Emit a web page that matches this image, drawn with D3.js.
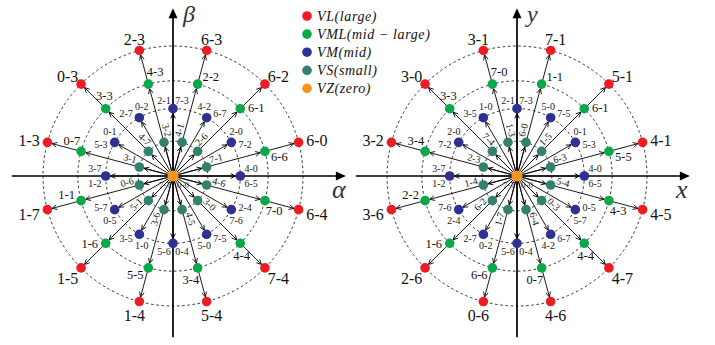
<!DOCTYPE html>
<html><head><meta charset="utf-8">
<script src="https://cdn.jsdelivr.net/npm/d3@7"></script>
<style>body{margin:0;background:#fff} text{font-family:"Liberation Serif","Times New Roman","DejaVu Serif",serif}</style>
</head><body>
<svg id="c" width="715" height="345"></svg>
<script>
// ---------------- data ----------------
const classNames = ["VL", "VML", "VM", "VS", "VZ"];
const classDesc  = ["large", "mid − large", "mid", "small", "zero"];
const classMag   = [1.0, 0.732, 0.518, 0.268, 0];
const classColor = ["#ed1c24", "#0ba84a", "#2e3192", "#33806f", "#f7941d"];

const anglesOdd  = [15, 45, 75, 105, 135, 165, 195, 225, 255, 285, 315, 345];
const anglesEven = [0, 30, 60, 90, 120, 150, 180, 210, 240, 270, 300, 330];

// left panel (alpha-beta)
const leftRed   = ["6-0","6-2","6-3","2-3","0-3","1-3","1-7","1-5","1-4","5-4","7-4","6-4"];
const leftGreen = ["6-6","6-1","2-2","4-3","3-3","0-7","1-1","1-6","5-5","3-4","4-4","7-0"];
const leftTeal  = ["7-1","2-6","4-1","3-2","4-7","3-1","0-6","5-1","3-6","4-5","3-0","4-6"];
const leftBlue  = [["4-0","6-5"],["2-0","7-2"],["4-2","6-7"],["2-1","7-3"],["2-7","0-2"],["5-3","0-1"],
                   ["1-2","3-7"],["0-5","5-7"],["1-0","3-5"],["0-4","5-6"],["7-5","5-0"],["2-4","7-6"]];
// right panel (x-y)
const rightRed   = ["4-1","5-1","7-1","3-1","3-0","3-2","3-6","2-6","0-6","4-6","4-7","4-5"];
const rightGreen = ["5-5","6-1","1-1","7-0","3-3","3-4","2-2","1-6","6-6","0-7","4-4","4-3"];
const rightTeal  = ["6-3","1-5","6-0","1-3","7-4","2-3","1-4","6-2","1-7","6-4","0-3","5-4"];
const rightBlue  = [["4-0","6-5"],["0-1","5-3"],["5-0","7-5"],["2-1","7-3"],["3-5","1-0"],["7-2","2-0"],
                    ["1-2","3-7"],["2-4","7-6"],["0-2","2-7"],["0-4","5-6"],["6-7","4-2"],["0-5","5-7"]];
const zeroLabels = ["7-7","0-0"];

// ---------------- drawing ----------------
const svg = d3.select("#c");
const R = 130, dotR = 4.8, rad = Math.PI / 180;

const panels = [
  {cx: 173, cy: 176, red: leftRed, green: leftGreen, teal: leftTeal, blue: leftBlue, xl: "α", yl: "β"},
  {cx: 517, cy: 176, red: rightRed, green: rightGreen, teal: rightTeal, blue: rightBlue, xl: "x", yl: "y"}
];

function head(g, x1, y1, x2, y2) {
  const a = Math.atan2(y2 - y1, x2 - x1), L = 5.5, w = 0.45;
  const p1 = [x2 - L * Math.cos(a - w), y2 - L * Math.sin(a - w)];
  const p2 = [x2 - L * Math.cos(a + w), y2 - L * Math.sin(a + w)];
  g.append("path").attr("d", `M${p1}L${x2},${y2}L${p2}`)
    .attr("fill", "none").attr("stroke", "#000").attr("stroke-width", 0.9);
}
function arrow(g, a, b) {
  const dx = b[0] - a[0], dy = b[1] - a[1], d = Math.hypot(dx, dy);
  const ex = b[0] - dx / d * dotR, ey = b[1] - dy / d * dotR;
  g.append("line").attr("x1", a[0]).attr("y1", a[1]).attr("x2", ex).attr("y2", ey)
    .attr("stroke", "#000").attr("stroke-width", 0.9);
  head(g, a[0], a[1], ex, ey);
}

panels.forEach(p => {
  const x = d3.scaleLinear().domain([-1, 1]).range([p.cx - R, p.cx + R]);
  const y = d3.scaleLinear().domain([-1, 1]).range([p.cy + R, p.cy - R]);
  const pt = (m, a) => [x(m * Math.cos(a * rad)), y(m * Math.sin(a * rad))];
  const g = svg.append("g");
  const O = pt(0, 0);

  // dashed rings
  g.selectAll("circle.ring").data(classMag.slice(0, 4)).join("circle")
    .attr("cx", x(0)).attr("cy", y(0)).attr("r", d => x(d) - x(0))
    .attr("fill", "none").attr("stroke", "#000").attr("stroke-width", 0.8)
    .attr("stroke-dasharray", "2.6,2.6");

  // axes
  const ax = g.append("g").attr("stroke", "#000").attr("stroke-width", 1.7);
  ax.append("line").attr("x1", x(-1.24)).attr("x2", x(1.27)).attr("y1", y(0)).attr("y2", y(0));
  ax.append("line").attr("x1", x(0)).attr("x2", x(0)).attr("y1", y(-1.24)).attr("y2", y(1.23));
  const tx = x(1.33), ty = y(1.29);
  g.append("path").attr("d", `M${tx},${y(0)}L${tx - 10},${y(0) - 4.5}L${tx - 10},${y(0) + 4.5}Z`).attr("fill", "#000");
  g.append("path").attr("d", `M${x(0)},${ty}L${x(0) - 4.5},${ty + 10}L${x(0) + 4.5},${ty + 10}Z`).attr("fill", "#000");
  g.append("text").attr("x", tx - 14).attr("y", y(0) + 22).text(p.xl)
    .attr("font-style", "italic").attr("font-size", 26).attr("fill", "#333");
  g.append("text").attr("x", x(0) + 10).attr("y", ty + 14).text(p.yl)
    .attr("font-style", "italic").attr("font-size", 24).attr("fill", "#333");

  // vectors
  anglesOdd.forEach(a => {
    arrow(g, O, pt(classMag[1], a));
    arrow(g, pt(classMag[1], a), pt(classMag[0], a));
    arrow(g, O, pt(classMag[3], a));
  });
  anglesEven.forEach(a => arrow(g, O, pt(classMag[2], a)));

  // dots
  const dots = [];
  anglesOdd.forEach(a => { dots.push([0, a], [1, a], [3, a]); });
  anglesEven.forEach(a => dots.push([2, a]));
  g.selectAll("circle.dot").data(dots).join("circle")
    .attr("cx", d => pt(classMag[d[0]], d[1])[0]).attr("cy", d => pt(classMag[d[0]], d[1])[1])
    .attr("r", dotR).attr("fill", d => classColor[d[0]]);
  g.append("circle").attr("cx", O[0]).attr("cy", O[1]).attr("r", 5.6).attr("fill", classColor[4]);

  const lab = (xx, yy, t, size) => g.append("text").attr("x", xx).attr("y", yy).text(t)
    .attr("font-size", size).attr("fill", "#111")
    .attr("text-anchor", "middle").attr("dominant-baseline", "central");

  // red labels
  p.red.forEach((t, i) => {
    const a = anglesOdd[i], c = pt(classMag[0], a);
    lab(c[0] + 19 * Math.cos(a * rad), c[1] - 13 * Math.sin(a * rad) + 1.5, t, 16);
  });
  // green labels
  p.green.forEach((t, i) => {
    const a = anglesOdd[i] - 40, c = pt(classMag[1], anglesOdd[i]);
    lab(c[0] + 16 * Math.cos(a * rad), c[1] - 13 * Math.sin(a * rad), t, 12.5);
  });
  // blue labels (two per point)
  p.blue.forEach((pair, i) => {
    const a = anglesEven[i], c = pt(classMag[2], a);
    [a + 40, a - 40].forEach((b, j) => {
      lab(c[0] + 14 * Math.cos(b * rad), c[1] - 11 * Math.sin(b * rad), pair[j], 10).attr("fill", "#222");
    });
  });
  // teal labels, rotated along the ray
  p.teal.forEach((t, i) => {
    const a = anglesOdd[i];
    const phi = (a > 90 && a < 270) ? a - 180 : a;
    const along = 46;
    const dx = Math.cos(phi * rad), dy = -Math.sin(phi * rad);
    const up = [dy, -dx];
    const cx = O[0] + along * Math.cos(a * rad) + 6 * up[0];
    const cy = O[1] - along * Math.sin(a * rad) + 6 * up[1];
    lab(cx, cy, t, 10).attr("fill", "#222").attr("transform", `rotate(${-phi},${cx},${cy})`);
  });
  // zero labels
  zeroLabels.forEach((t, i) => lab(O[0] + (i ? 10 : -8), O[1] + 9, t, 9).attr("fill", "#333"));
});

// legend
const leg = svg.append("g");
classNames.forEach((n, i) => {
  const yy = 16 + i * 18.1;
  leg.append("circle").attr("cx", 307).attr("cy", yy).attr("r", 4.8).attr("fill", classColor[i]);
  leg.append("text").attr("x", 317).attr("y", yy).attr("dominant-baseline", "central")
    .attr("font-style", "italic").attr("font-size", 14)
    .attr("letter-spacing", 0.6).attr("fill", "#111")
    .text(`${n}(${classDesc[i]})`);
});
</script>
</body></html>
